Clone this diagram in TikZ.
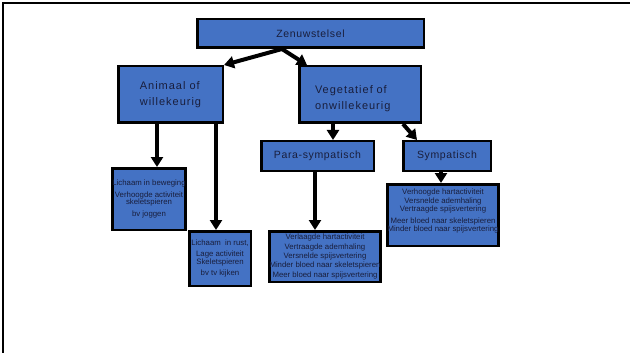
\documentclass[tikz,border=0pt]{standalone}
\usepackage{fontspec}
\setmainfont{Liberation Sans}
\newfontfamily\myboxfont[LetterSpace=6]{Liberation Sans}
\newfontfamily\mylargefont[LetterSpace=9]{Liberation Sans}
\usetikzlibrary{arrows.meta}
\definecolor{boxblue}{RGB}{68,114,196}
\definecolor{txtc}{RGB}{25,30,60}
\tikzset{
  box/.style={draw=black, line width=2.5pt, fill=boxblue, inner sep=0pt, text=txtc},
  bigtxt/.style={font=\myboxfont\fontsize{10.5}{16.6}\selectfont},
  largetxt/.style={font=\mylargefont\fontsize{11}{16.4}\selectfont},
  smalltxt/.style={font=\fontsize{7.8}{8}\selectfont, align=center},
  arr/.style={line width=4pt, -{Triangle[width=12pt,length=10pt]}}
}
\begin{document}
\begin{tikzpicture}[x=1pt,y=-1pt]
\useasboundingbox (0,0) rectangle (630,353);
\draw[line width=2pt] (3,353) -- (3,3) -- (630,3);

\node[box, bigtxt, minimum width=226.5pt, minimum height=28.5pt] (zen) at (310.5,33.5) {Zenuwstelsel};
\node[box, largetxt, align=left, minimum width=104.5pt, minimum height=56.5pt] (anim) at (170.5,94.5) {Animaal of\\willekeurig};
\node[box, largetxt, align=left, text width=90pt, text depth=10.5pt, minimum width=121.5pt, minimum height=56.5pt] (veg) at (360,94.5) {Vegetatief of\\onwillekeurig};
\node[box, bigtxt, minimum width=112.5pt, minimum height=29.5pt] (para) at (317.5,156) {Para-sympatisch};
\node[box, bigtxt, minimum width=87.5pt, minimum height=29.5pt] (symp) at (447,156) {Sympatisch};

\node[box, smalltxt, minimum width=69.5pt, minimum height=61.5pt] (bew) at (149,199)
  {Lichaam in beweging\\[3.7pt]Verhoogde activiteit\\[-0.7pt]skeletspieren\\[3.7pt]bv joggen};
\node[box, smalltxt, minimum width=61.5pt, minimum height=54.5pt] (rust) at (220,258.5)
  {Lichaam\ \ in rust,\\[2.7pt]Lage activiteit\\[0.3pt]Skeletspieren\\[3pt]bv tv kijken};
\node[box, smalltxt, minimum width=105.5pt, minimum height=50.5pt] (parad) at (325,256.5)
  {Verlaagde hartactiviteit\\[2pt]Vertraagde ademhaling\\[0.3pt]Versnelde spijsvertering\\[1.7pt]Minder bloed naar skeletspieren\\[1.3pt]Meer bloed naar spijsvertering};
\node[box, smalltxt, text depth=9.7pt, minimum width=105.5pt, minimum height=61.5pt] (sympd) at (443,215)
  {Verhoogde hartactiviteit\\[1.6pt]Versnelde ademhaling\\[-0.3pt]Vertraagde spijsvertering\\[3.7pt]Meer bloed naar skeletspieren\\[0.3pt]Minder bloed naar spijsvertering};

\draw[arr] ([xshift=-28.5pt]zen.south) -- (anim.north east);
\draw[arr] ([xshift=-28.5pt]zen.south) -- ([xshift=-53pt]veg.north);
\draw[arr] ([xshift=-13.5pt]anim.south) -- ([xshift=8pt]bew.north);
\draw[arr] ([xshift=45.5pt]anim.south) -- ([xshift=-4pt]rust.north);
\draw[arr] ([xshift=-27pt]veg.south) -- ([xshift=15.5pt]para.north);
\draw[arr] ([xshift=43pt]veg.south) -- ([xshift=-30pt]symp.north);
\draw[arr] ([xshift=-2.5pt]para.south) -- ([xshift=-10pt]parad.north);
\draw[arr] ([xshift=-6pt]symp.south) -- ([xshift=-2pt]sympd.north);
\end{tikzpicture}
\end{document}
